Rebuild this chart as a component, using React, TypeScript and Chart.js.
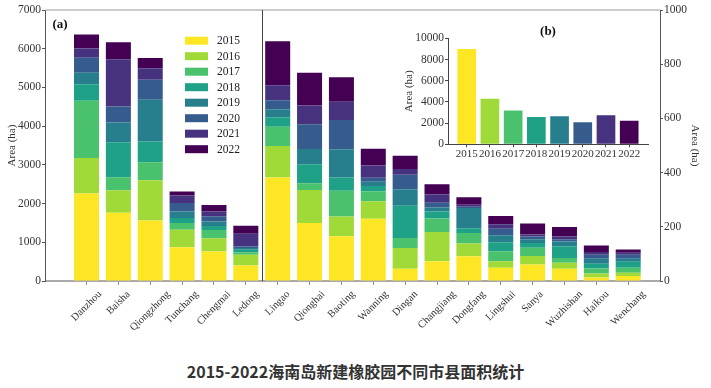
import React, { useEffect, useRef } from 'react';
import { Chart, registerables } from 'chart.js';

Chart.register(...registerables);

// Counties on the left axis (0-7000 ha) and on the right axis (0-1000 ha)
const groupA = ['Danzhou', 'Baisha', 'Qiongzhong', 'Tunchang', 'Chengmai', 'Ledong'];
const groupB = ['Lingao', 'Qionghai', 'Baoting', 'Wanning', 'Dingan', 'Changjiang', 'Dongfang', 'Lingshui', 'Sanya', 'Wuzhishan', 'Haikou', 'Wenchang'];
const counties = [...groupA, ...groupB];

const years = ['2015', '2016', '2017', '2018', '2019', '2020', '2021', '2022'];
const colors = ['#fde725', '#a0da39', '#4ac16d', '#1fa187', '#277f8e', '#365c8d', '#46327e', '#440154'];

// New rubber plantation area (ha) per county, one array per year (order = counties)
const v2015 = [2257, 1762, 1563, 870, 760, 400, 382, 214, 165, 230, 45, 73, 91, 49, 61, 45, 13, 18];
const v2016 = [919, 582, 1039, 455, 345, 280, 116, 122, 73, 64, 77, 108, 47, 24, 31, 22, 15, 12];
const v2017 = [1482, 335, 463, 172, 215, 60, 71, 25, 95, 37, 37, 50, 39, 37, 31, 18, 18, 19];
const v2018 = [422, 902, 541, 129, 100, 70, 35, 70, 49, 20, 119, 25, 18, 33, 17, 43, 18, 22];
const v2019 = [299, 515, 1075, 172, 115, 45, 30, 56, 104, 15, 61, 15, 74, 26, 14, 18, 18, 11];
const v2020 = [386, 412, 515, 214, 140, 40, 33, 91, 108, 15, 53, 18, 5, 24, 10, 8, 15, 15];
const v2021 = [242, 1221, 301, 198, 120, 327, 55, 70, 67, 45, 21, 30, 7, 16, 8, 10, 10, 7];
const v2022 = [360, 438, 266, 103, 170, 206, 163, 120, 91, 62, 49, 38, 28, 31, 40, 35, 24, 12];
const yearSeries = [v2015, v2016, v2017, v2018, v2019, v2020, v2021, v2022];

// Inset (b): total new area per year (ha)
const yearTotals = [9000, 4300, 3200, 2580, 2640, 2080, 2740, 2230];

// Axis tick settings
const leftMax = 7000;
const leftStep = 1000;
const rightMax = 1000;
const rightStep = 200;
const insetMax = 10000;
const insetStep = 2000;

const SERIF = '"Liberation Serif", "Times New Roman", serif';
Chart.defaults.font.family = SERIF;

const plainNumber = (v: any) => String(Math.round(Number(v)));

const decorPlugin = {
  id: 'decor',
  afterDraw(chart: any) {
    const { ctx, chartArea: a, scales } = chart;
    const xs = scales.x;
    ctx.save();
    // top frame line
    ctx.strokeStyle = '#bbbbbb';
    ctx.lineWidth = 1.5;
    ctx.beginPath();
    ctx.moveTo(a.left, a.top);
    ctx.lineTo(a.right, a.top);
    ctx.stroke();
    // separator between the two groups
    const sx = Math.round(xs.getPixelForValue(groupA.length - 0.5)) + 0.5;
    ctx.strokeStyle = '#444444';
    ctx.lineWidth = 1;
    ctx.beginPath();
    ctx.moveTo(sx, a.top);
    ctx.lineTo(sx, a.bottom);
    ctx.stroke();
    // panel label
    ctx.fillStyle = '#111111';
    ctx.font = `bold 13px ${SERIF}`;
    ctx.textAlign = 'left';
    ctx.textBaseline = 'middle';
    ctx.fillText('(a)', a.left + 7, a.top + 15);
    // legend
    ctx.font = `11.5px ${SERIF}`;
    years.forEach((yr, k) => {
      const cy = a.top + 30.7 + k * 15.5;
      ctx.fillStyle = colors[k];
      ctx.fillRect(a.left + 139.5, cy - 4, 23, 8);
      ctx.fillStyle = '#222222';
      ctx.fillText(yr, a.left + 171.5, cy + 0.5);
    });
    // rotated category labels
    ctx.font = `10.5px ${SERIF}`;
    ctx.fillStyle = '#333333';
    counties.forEach((name, i) => {
      const x = xs.getPixelForValue(i);
      const w = ctx.measureText(name).width;
      const H = (w + 10.5) * Math.SQRT1_2;
      const cy = a.bottom + 8 + H / 2;
      ctx.save();
      ctx.translate(x, cy);
      ctx.rotate(-Math.PI / 4);
      ctx.textAlign = 'center';
      ctx.textBaseline = 'middle';
      ctx.fillText(name, 0, 0);
      ctx.restore();
    });
    ctx.restore();
  },
};

const insetLabelPlugin = {
  id: 'insetLabel',
  afterDraw(chart: any) {
    const { ctx, chartArea: a } = chart;
    ctx.save();
    ctx.fillStyle = '#111111';
    ctx.font = `bold 13px ${SERIF}`;
    ctx.textAlign = 'center';
    ctx.textBaseline = 'middle';
    ctx.fillText('(b)', (a.left + a.right) / 2, a.top - 7);
    ctx.restore();
  },
};

export default function App() {
  const mainRef = useRef<HTMLCanvasElement>(null);
  const insetRef = useRef<HTMLCanvasElement>(null);

  useEffect(() => {
    const datasets: any[] = [];
    years.forEach((yr, k) => {
      datasets.push({
        label: yr,
        yAxisID: 'y',
        backgroundColor: colors[k],
        data: groupA.map((_, i) => ({ x: i, y: yearSeries[k][i] })),
      });
    });
    years.forEach((yr, k) => {
      datasets.push({
        label: yr + ' ',
        yAxisID: 'y1',
        backgroundColor: colors[k],
        data: groupB.map((_, j) => ({ x: groupA.length + j, y: yearSeries[k][groupA.length + j] })),
      });
    });

    const tickFont = { family: SERIF, size: 11.5 };
    const titleFont = { family: SERIF, size: 11 };

    const main = new Chart(mainRef.current!, {
      type: 'bar',
      data: { datasets },
      options: {
        animation: false,
        responsive: false,
        maintainAspectRatio: false,
        layout: { padding: { top: 10, left: 0, right: 0, bottom: 0 } },
        plugins: { legend: { display: false }, tooltip: { enabled: false } },
        datasets: { bar: { barPercentage: 0.785, categoryPercentage: 1 } },
        scales: {
          x: {
            type: 'linear',
            min: -1.287,
            max: counties.length - 1 + 0.998,
            stacked: true,
            offset: false,
            afterBuildTicks: (s: any) => {
              s.ticks = counties.map((_, i) => ({ value: i }));
            },
            ticks: { display: false },
            grid: { display: true, offset: false, drawOnChartArea: false, drawTicks: true, tickLength: 4, color: '#888888' },
            border: { display: true, color: '#aaaaaa', width: 2 },
            afterFit: (s: any) => {
              s.height = 64;
            },
          },
          y: {
            position: 'left',
            min: 0,
            max: leftMax,
            stacked: true,
            ticks: { stepSize: leftStep, font: tickFont, color: '#333333', padding: 1, callback: plainNumber },
            grid: { drawOnChartArea: false, tickLength: 3.5, color: '#555555' },
            border: { display: true, color: '#555555', width: 1 },
            title: { display: true, text: 'Area (ha)', font: titleFont, color: '#333333', padding: { top: 6, bottom: 0 } },
            afterFit: (s: any) => {
              s.width = 45.5;
            },
          },
          y1: {
            position: 'right',
            min: 0,
            max: rightMax,
            stacked: true,
            ticks: { stepSize: rightStep, font: tickFont, color: '#333333', padding: 1, callback: plainNumber },
            grid: { drawOnChartArea: false, tickLength: 3, color: '#555555' },
            border: { display: true, color: '#555555', width: 1 },
            title: { display: true, text: 'Area (ha)', font: titleFont, color: '#333333', padding: { top: 9.4, bottom: 0 } },
            afterFit: (s: any) => {
              s.width = 51;
            },
          },
        },
      } as any,
      plugins: [decorPlugin],
    });

    const inset = new Chart(insetRef.current!, {
      type: 'bar',
      data: {
        datasets: [
          {
            label: 'total',
            backgroundColor: colors,
            barPercentage: 0.805,
            categoryPercentage: 1,
            data: years.map((_, i) => ({ x: i, y: yearTotals[i] })),
          } as any,
        ],
      },
      options: {
        animation: false,
        responsive: false,
        maintainAspectRatio: false,
        layout: { padding: { top: 23.3, right: 12, left: 0, bottom: 0 } },
        plugins: { legend: { display: false }, tooltip: { enabled: false } },
        scales: {
          x: {
            type: 'linear',
            min: -0.806,
            max: years.length - 1 + 0.81,
            offset: false,
            afterBuildTicks: (s: any) => {
              s.ticks = years.map((_, i) => ({ value: i }));
            },
            ticks: {
              autoSkip: false,
              maxRotation: 0,
              minRotation: 0,
              padding: 0,
              font: { family: SERIF, size: 11 },
              color: '#333333',
              callback: (_v: any, idx: number) => years[idx],
            },
            grid: { display: true, offset: false, drawOnChartArea: false, tickLength: 3, color: '#444444' },
            border: { display: true, color: '#444444', width: 1 },
            afterFit: (s: any) => {
              s.height = 20.7;
            },
          },
          y: {
            min: 0,
            max: insetMax,
            ticks: { stepSize: insetStep, font: tickFont, color: '#333333', padding: 1, callback: plainNumber },
            grid: { drawOnChartArea: false, tickLength: 3, color: '#444444' },
            border: { display: true, color: '#444444', width: 1 },
            title: { display: true, text: 'Area (ha)', font: titleFont, color: '#333333', padding: { top: 7.4, bottom: 0 } },
            afterFit: (s: any) => {
              s.width = 53;
            },
          },
        },
      } as any,
      plugins: [insetLabelPlugin],
    });

    return () => {
      main.destroy();
      inset.destroy();
    };
  }, []);

  return (
    <div style={{ position: 'absolute', left: 0, top: 0, width: 711, height: 388, background: '#ffffff' }}>
      <canvas ref={mainRef} width={711} height={345} style={{ position: 'absolute', left: 0, top: 0, display: 'block' }} />
      <canvas ref={insetRef} width={265} height={150} style={{ position: 'absolute', left: 395, top: 15, display: 'block' }} />
      <div
        style={{
          position: 'absolute',
          left: 0,
          top: 359,
          width: 711,
          height: 24,
          lineHeight: '24px',
          textAlign: 'center',
          fontFamily: '"Noto Sans CJK SC", sans-serif',
          fontWeight: 700,
          fontSize: 16,
          color: '#333333',
        }}
      >
        2015-2022海南岛新建橡胶园不同市县面积统计
      </div>
    </div>
  );
}
